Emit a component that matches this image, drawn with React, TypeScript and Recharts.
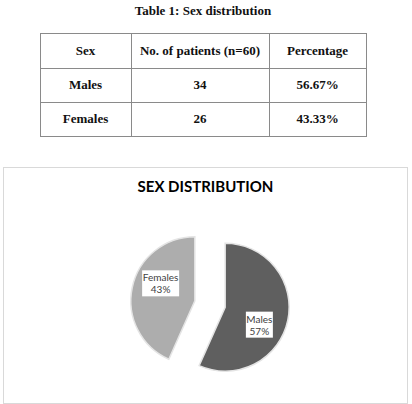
import React from 'react';
import { PieChart, Pie, Cell } from 'recharts';

const tableTitle = 'Table 1: Sex distribution';
const headers = ['Sex', 'No. of patients (n=60)', 'Percentage'];
const sexes = ['Males', 'Females'];
const patients = [34, 26];
const percentages = ['56.67%', '43.33%'];

const chartTitle = 'SEX DISTRIBUTION';
const sliceColors = ['#5f5f5f', '#adadad'];

const RAD = Math.PI / 180;
const EXPLODE = 15.5;
const LABEL_TURN = 15;

const pieData = sexes.map((name, i) => ({ name, value: patients[i] }));
const total = patients.reduce((a, b) => a + b, 0);

// offset of each slice along its bisector (angles clockwise from top)
function explodeOffset(index: number) {
  const before = patients.slice(0, index).reduce((a, b) => a + b, 0);
  const mid = ((before + patients[index] / 2) / total) * 360;
  return { dx: EXPLODE * Math.sin(mid * RAD), dy: -EXPLODE * Math.cos(mid * RAD) };
}

const colX = [40, 131, 269, 366];
const rowY = [33, 68, 102, 136];

function SliceLabel(props: any) {
  const { cx, cy, midAngle, outerRadius, percent, name } = props;
  const ex = cx + EXPLODE * Math.cos(-midAngle * RAD);
  const ey = cy + EXPLODE * Math.sin(-midAngle * RAD);
  const a = midAngle - LABEL_TURN;
  const r = outerRadius * 0.6;
  const x = ex + r * Math.cos(-a * RAD);
  const y = ey + r * Math.sin(-a * RAD);
  const pct = `${Math.round(percent * 100)}%`;
  const w = name.length * 5 + 2;
  return (
    <g>
      <rect x={x - w / 2} y={y - 13} width={w} height={26} fill="#ffffff" />
      <text x={x} y={y - 2} textAnchor="middle" fontSize={10} fill="#404040" fontFamily="Lato, sans-serif">
        {name}
      </text>
      <text x={x} y={y + 10} textAnchor="middle" fontSize={10} fill="#404040" fontFamily="Lato, sans-serif">
        {pct}
      </text>
    </g>
  );
}

export default function App() {
  const cellStyle = (ci: number, ri: number): React.CSSProperties => ({
    position: 'absolute',
    left: colX[ci],
    top: rowY[ri],
    width: colX[ci + 1] - colX[ci],
    height: rowY[ri + 1] - rowY[ri],
    display: 'flex',
    alignItems: 'center',
    justifyContent: 'center',
    fontFamily: '"Liberation Serif", serif',
    fontWeight: 'bold',
    fontSize: 13,
    color: '#111',
  });
  const rows = [headers, ...sexes.map((s, i) => [s, String(patients[i]), percentages[i]])];

  return (
    <div style={{ position: 'absolute', left: 0, top: 0, width: 412, height: 404, background: '#fff', overflow: 'hidden' }}>
      <div
        style={{
          position: 'absolute',
          left: 0,
          top: 3,
          width: 406,
          textAlign: 'center',
          fontFamily: '"Liberation Serif", serif',
          fontWeight: 'bold',
          fontSize: 13,
          color: '#111',
        }}
      >
        {tableTitle}
      </div>
      <svg style={{ position: 'absolute', left: 0, top: 0 }} width={412} height={160}>
        <rect x={40.5} y={33.5} width={326} height={103} fill="none" stroke="#8a8a8a" />
        {colX.slice(1, 3).map((x) => (
          <line key={x} x1={x + 0.5} x2={x + 0.5} y1={33} y2={137} stroke="#8a8a8a" />
        ))}
        {rowY.slice(1, 3).map((y) => (
          <line key={y} x1={40} x2={367} y1={y + 0.5} y2={y + 0.5} stroke="#8a8a8a" />
        ))}
      </svg>
      {rows.map((r, ri) =>
        r.map((t, ci) => (
          <div key={`${ri}-${ci}`} style={cellStyle(ci, ri)}>
            {t}
          </div>
        ))
      )}

      <div
        style={{
          position: 'absolute',
          left: 3,
          top: 167,
          width: 403,
          height: 235,
          border: '1px solid #d9d9d9',
          background: '#fff',
        }}
      >
        <div
          style={{
            position: 'absolute',
            left: 0,
            top: 9,
            width: 403,
            textAlign: 'center',
            fontFamily: 'Lato, sans-serif',
            fontWeight: 'bold',
            fontSize: 15,
            color: '#000',
          }}
        >
          {chartTitle}
        </div>
        <div style={{ position: 'absolute', left: 0, top: 0 }}>
          <PieChart width={403} height={235}>
            <Pie
              data={pieData}
              dataKey="value"
              nameKey="name"
              cx={201}
              cy={131}
              outerRadius={64}
              startAngle={90}
              endAngle={-270}
              stroke="#e4e4e4"
              strokeWidth={1.5}
              label={SliceLabel}
              labelLine={false}
              isAnimationActive={false}
            >
              {pieData.map((d, i) => {
                const o = explodeOffset(i);
                return <Cell key={d.name} fill={sliceColors[i]} transform={`translate(${o.dx},${o.dy})`} />;
              })}
            </Pie>
          </PieChart>
        </div>
      </div>
    </div>
  );
}
